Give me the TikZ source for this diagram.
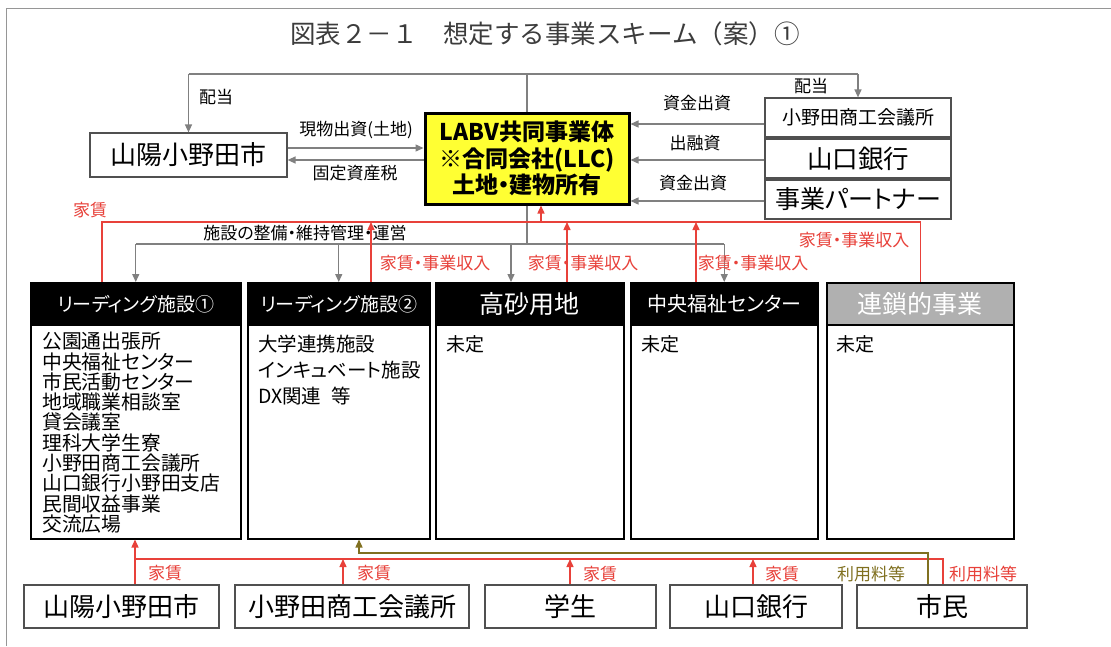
\documentclass[tikz,border=0pt]{standalone}
\usepackage{fontspec}
\setmainfont{Noto Sans CJK JP}[RawFeature=+palt]
\newfontfamily\titlefont{Noto Sans CJK JP}
\usetikzlibrary{arrows.meta}
\definecolor{lgray}{RGB}{128,128,128}
\definecolor{myred}{RGB}{232,65,58}
\definecolor{olivec}{RGB}{128,112,32}
\definecolor{yel}{RGB}{255,255,51}
\definecolor{hgray}{RGB}{176,176,176}
\definecolor{framec}{RGB}{150,150,150}
\definecolor{boxc}{RGB}{80,80,80}
\definecolor{titlec}{RGB}{60,60,60}
\begin{document}
\begin{tikzpicture}[x=1pt,y=-1pt,
  gline/.style={draw=lgray, line width=1.4pt},
  garr/.style={gline, -{Triangle[length=8pt,width=7pt]}},
  rline/.style={draw=myred, line width=1.4pt},
  rarr/.style={rline, -{Triangle[length=8pt,width=7pt]}},
  oline/.style={draw=olivec, line width=1.4pt},
  oarr/.style={oline, -{Triangle[length=8pt,width=7pt]}},
  lab/.style={inner sep=0pt, font=\fontsize{17}{20}\selectfont},
  rlab/.style={lab, text=myred},
  olab/.style={lab, text=olivec},
  wbox/.style={draw=boxc, line width=1.2pt, fill=white, inner sep=0pt},
  hdr/.style={draw=black, fill=black, text=white, line width=1.5pt, minimum height=42pt, inner sep=0pt, anchor=north west},
  bodybox/.style={draw=black, line width=1.5pt, fill=white, minimum height=214pt, inner sep=0pt, anchor=north west},
  btxt/.style={inner sep=0pt, anchor=north west, align=left}
]
\useasboundingbox (0,0) rectangle (1111,646);
\fill[white] (0,0) rectangle (1111,646);
\draw[framec, line width=1pt] (6,646) -- (6,8) -- (1111,8);

% title
\node[inner sep=0pt, text=titlec, font=\titlefont\fontsize{25.5}{28}\selectfont] (title) at (545,34) {図表２－１　想定する事業スキーム（案）①};

% top boxes
\node[wbox, minimum width=197pt, minimum height=44pt, font=\fontsize{26}{30}\selectfont] (lsan) at (188.5,155) {山陽小野田市};
\node[draw=black, line width=3pt, fill=yel, minimum width=204pt, minimum height=91pt, inner sep=0pt, align=center, font=\bfseries\fontsize{23}{26.5}\selectfont] (labv) at (527,158.5) {LABV共同事業体\\※合同会社(LLC)\\土地・建物所有};
\node[wbox, minimum width=186pt, minimum height=39pt, font=\fontsize{19}{22}\selectfont] (cc) at (858,117.5) {小野田商工会議所};
\node[wbox, minimum width=186pt, minimum height=39pt, font=\fontsize{25.5}{28}\selectfont] (bank) at (858,158.5) {山口銀行};
\node[wbox, minimum width=186pt, minimum height=39pt, font=\fontsize{25}{28}\selectfont] (partner) at (858,199.5) {事業パートナー};

% facility boxes
\node[bodybox, minimum width=210pt] (b1) at (30,324) {};
\node[bodybox, minimum width=182pt] (b2) at (247,324) {};
\node[bodybox, minimum width=188pt] (b3) at (435,324) {};
\node[bodybox, minimum width=187pt] (b4) at (630,324) {};
\node[bodybox, minimum width=187pt] (b5) at (826,324) {};
\node[hdr, minimum width=210pt, font=\fontsize{19}{22}\selectfont] (h1) at (30,282) {リーディング施設①};
\node[hdr, minimum width=182pt, font=\fontsize{19}{22}\selectfont] (h2) at (247,282) {リーディング施設②};
\node[hdr, minimum width=188pt, font=\fontsize{25}{28}\selectfont] (h3) at (435,282) {高砂用地};
\node[hdr, minimum width=187pt, font=\fontsize{20}{23}\selectfont] (h4) at (630,282) {中央福祉センター};
\node[hdr, minimum width=187pt, fill=hgray, text=white, font=\fontsize{25}{28}\selectfont] (h5) at (826,282) {連鎖的事業};

\node[btxt, font=\fontsize{19.8}{20.3}\selectfont] (t1) at (42,332) {公園通出張所\\中央福祉センター\\市民活動センター\\地域職業相談室\\貸会議室\\理科大学生寮\\小野田商工会議所\\山口銀行小野田支店\\民間収益事業\\交流広場};
\node[btxt, font=\fontsize{19.5}{26}\selectfont] (t2) at (258,335) {大学連携施設\\インキュベート施設\\DX関連\hspace{0.5em}等};
\node[btxt, font=\fontsize{19}{22}\selectfont] (t3) at (446,335) {未定};
\node[btxt, font=\fontsize{19}{22}\selectfont] (t4) at (641,335) {未定};
\node[btxt, font=\fontsize{19}{22}\selectfont] (t5) at (836,335) {未定};

% bottom boxes
\node[wbox, minimum width=195pt, minimum height=43pt, font=\fontsize{26}{30}\selectfont] (bsan) at (121.5,606.5) {山陽小野田市};
\node[wbox, minimum width=234pt, minimum height=43pt, font=\fontsize{26}{30}\selectfont] (bcc) at (352,606.5) {小野田商工会議所};
\node[wbox, minimum width=171pt, minimum height=43pt, font=\fontsize{26}{30}\selectfont] (bstu) at (570.5,606.5) {学生};
\node[wbox, minimum width=172pt, minimum height=43pt, font=\fontsize{26}{30}\selectfont] (bbank) at (756,606.5) {山口銀行};
\node[wbox, minimum width=170pt, minimum height=43pt, font=\fontsize{26}{30}\selectfont] (bcit) at (942,606.5) {市民};

% top gray connectors
\draw[gline] (lsan.north |- 0,74) -- (cc.north |- 0,74);
\draw[gline] (labv.north) -- (labv.north |- 0,74);
\draw[garr] (lsan.north |- 0,74) -- (lsan.north);
\draw[garr] (cc.north |- 0,74) -- (cc.north);
\node[lab] (l_hai1) at (216,97) {配当};
\node[lab] (l_hai2) at (811,86) {配当};

% left arrows
\draw[garr] (lsan.east |- 0,148) -- (labv.west |- 0,148);
\draw[garr] (labv.west |- 0,160) -- (lsan.east |- 0,160);
\node[lab] (l_gen) at (356,130) {現物出資(土地)};
\node[lab] (l_kot) at (355,173) {固定資産税};

% right arrows
\draw[garr] (cc.west |- 0,124) -- (labv.east |- 0,124);
\draw[garr] (bank.west |- 0,160) -- (labv.east |- 0,160);
\draw[garr] (partner.west |- 0,201) -- (labv.east |- 0,201);
\node[lab] (l_s1) at (697,103) {資金出資};
\node[lab] (l_s2) at (695,143) {出融資};
\node[lab] (l_s3) at (693,183) {資金出資};

% management gray connectors
\draw[gline] (labv.south) -- (labv.south |- 0,244);
\draw[gline] (h1.north |- 0,244) -- (h4.north |- 0,244);
\draw[garr] (h1.north |- 0,244) -- (h1.north);
\draw[garr] (h2.north |- 0,244) -- (h2.north);
\draw[garr] (511,244) -- (511,0 |- h3.north);
\draw[garr] (h4.north |- 0,244) -- (h4.north);
\node[lab] (l_sisetsu) at (305,233) {施設の整備・維持管理・運営};

% red rent connectors (top)
\draw[rline] (102,0 |- h1.north) |- (h5.north |- 0,222) -- (h5.north);
\draw[rarr] (371,0 |- h2.north) -- (371,222);
\draw[rarr] (567,0 |- h3.north) -- (567,222);
\draw[rarr] (696,0 |- h4.north) -- (696,222);
\draw[rarr] (541,222) -- (541,0 |- labv.south);
\node[rlab] (l_r0) at (90,210) {家賃};
\node[rlab] (l_r1) at (435,263) {家賃・事業収入};
\node[rlab] (l_r2) at (583,263) {家賃・事業収入};
\node[rlab] (l_r3) at (753,263) {家賃・事業収入};
\node[rlab] (l_r4) at (854,240) {家賃・事業収入};

% bottom connectors
\draw[rarr] (135,0 |- bsan.north) -- (135,0 |- b1.south);
\draw[rline] (135,559) -| (943,0 |- bcit.north);
\draw[rarr] (343,0 |- bcc.north) -- (343,559);
\draw[rarr] (570,0 |- bstu.north) -- (570,559);
\draw[rarr] (753,0 |- bbank.north) -- (753,559);
\draw[oarr] (928,0 |- bcit.north) |- (359,553) -- (359,0 |- b2.south);
\node[rlab] (l_b1) at (165,573) {家賃};
\node[rlab] (l_b2) at (374,573) {家賃};
\node[rlab] (l_b3) at (600,574) {家賃};
\node[rlab] (l_b4) at (782,574) {家賃};
\node[olab] (l_b5) at (871,574) {利用料等};
\node[rlab] (l_b6) at (983,574) {利用料等};
\end{tikzpicture}
\end{document}
